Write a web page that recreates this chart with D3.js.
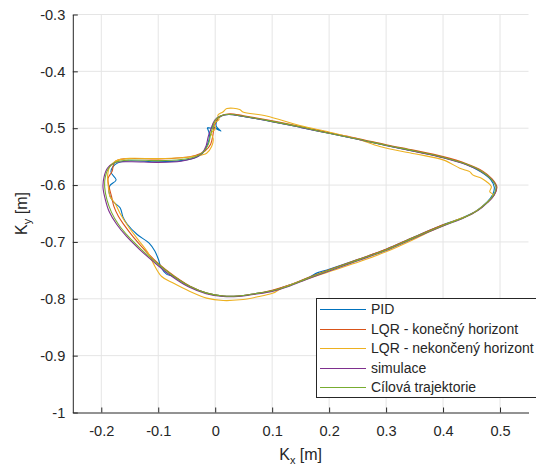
<!DOCTYPE html>
<html>
<head>
<meta charset="utf-8">
<script src="https://cdn.jsdelivr.net/npm/d3@7"></script>
<style>
  body { margin: 0; background: #fff; }
  text { font-family: "Liberation Sans", Arial, Helvetica, sans-serif; fill: #262626; }
</style>
</head>
<body>
<svg id="chart" width="536" height="466"></svg>
<script>
// Axis ticks
const xTicks = [-0.2, -0.1, 0, 0.1, 0.2, 0.3, 0.4, 0.5];
const yTicks = [-1, -0.9, -0.8, -0.7, -0.6, -0.5, -0.4, -0.3];

// Legend entries and line colours
const seriesNames = ["PID", "LQR - konečný horizont", "LQR - nekončený horizont", "simulace", "Cílová trajektorie"];
const seriesColors = ["#0072BD", "#D95319", "#EDB120", "#7E2F8E", "#77AC30"];

// Measured path, PID controller [Kx, Ky]
const pid = [
  [-0.014,-0.499],[0.000,-0.500],[-0.006,-0.496],[0.006,-0.503],[0.010,-0.505],[0.002,-0.497],
  [0.003,-0.487],[0.010,-0.479],[0.024,-0.476],[0.050,-0.4795],[0.100,-0.4885],[0.150,-0.4985],
  [0.200,-0.509],[0.250,-0.5195],[0.300,-0.5305],[0.350,-0.5405],[0.400,-0.5515],[0.440,-0.5635],
  [0.467,-0.577],[0.484,-0.591],[0.490,-0.604],[0.487,-0.617],[0.477,-0.630],[0.460,-0.644],
  [0.435,-0.657],[0.400,-0.670],[0.350,-0.691],[0.300,-0.713],[0.250,-0.731],[0.200,-0.748],
  [0.180,-0.754],[0.163,-0.763],[0.130,-0.776],[0.100,-0.786],[0.070,-0.791],[0.040,-0.795],
  [0.014,-0.795],[-0.015,-0.790],[-0.045,-0.778],[-0.075,-0.760],[-0.085,-0.757],[-0.095,-0.745],
  [-0.0996,-0.731],[-0.106,-0.716],[-0.116,-0.702],[-0.137,-0.687],[-0.155,-0.668],[-0.162,-0.656],
  [-0.167,-0.640],[-0.180,-0.628],[-0.1865,-0.612],[-0.185,-0.601],[-0.174,-0.591],[-0.183,-0.577],
  [-0.176,-0.564],[-0.160,-0.558],[-0.100,-0.559],[-0.060,-0.557],[-0.035,-0.552],[-0.022,-0.544],
  [-0.014,-0.530],[-0.010,-0.512],[-0.014,-0.499]
];

// Measured path, LQR with finite horizon
const lqrFinite = [
  [-0.002,-0.497],[0.004,-0.484],[0.013,-0.477],[0.026,-0.4745],[0.050,-0.478],[0.100,-0.487],
  [0.150,-0.497],[0.200,-0.508],[0.250,-0.518],[0.300,-0.529],[0.350,-0.539],[0.400,-0.550],
  [0.440,-0.562],[0.469,-0.575],[0.486,-0.589],[0.4945,-0.603],[0.490,-0.617],[0.478,-0.630],
  [0.461,-0.644],[0.436,-0.657],[0.400,-0.670],[0.350,-0.691],[0.300,-0.713],[0.250,-0.731],
  [0.200,-0.749],[0.160,-0.764],[0.130,-0.776],[0.100,-0.785],[0.070,-0.791],[0.040,-0.795],
  [0.014,-0.795],[-0.015,-0.790],[-0.044,-0.778],[-0.072,-0.760],[-0.100,-0.738],[-0.122,-0.716],
  [-0.144,-0.691],[-0.160,-0.670],[-0.170,-0.655],[-0.178,-0.637],[-0.182,-0.620],[-0.187,-0.600],
  [-0.188,-0.588],[-0.181,-0.576],[-0.179,-0.566],[-0.176,-0.559],[-0.160,-0.554],[-0.100,-0.554],
  [-0.060,-0.552],[-0.035,-0.548],[-0.018,-0.540],[-0.008,-0.528],[-0.004,-0.512],[-0.002,-0.497]
];

// Measured path, LQR with infinite horizon
const lqrInfinite = [
  [-0.008,-0.508],[0.001,-0.4995],[-0.004,-0.4924],[0.0065,-0.4854],[0.0047,-0.477],[0.0135,-0.4714],
  [0.0205,-0.4655],[0.043,-0.467],[0.0486,-0.4714],[0.090,-0.4784],[0.1486,-0.4955],[0.201,-0.507],
  [0.250,-0.519],[0.289,-0.5323],[0.350,-0.545],[0.400,-0.5557],[0.4293,-0.5703],[0.437,-0.573],
  [0.4468,-0.5763],[0.452,-0.582],[0.4674,-0.5879],[0.476,-0.5938],[0.4849,-0.6026],[0.482,-0.6114],
  [0.4877,-0.6172],[0.476,-0.6318],[0.4526,-0.6494],[0.4175,-0.6641],[0.3767,-0.6817],[0.353,-0.6934],
  [0.301,-0.7169],[0.254,-0.7344],[0.201,-0.752],[0.149,-0.7696],[0.113,-0.7835],[0.1018,-0.790],
  [0.0726,-0.797],[0.0433,-0.8018],[0.014,-0.803],[-0.0151,-0.7988],[-0.0444,-0.7872],[-0.0737,-0.7724],
  [-0.094,-0.7608],[-0.1088,-0.7373],[-0.1175,-0.7197],[-0.1351,-0.6963],[-0.1526,-0.6729],[-0.1672,-0.6494],
  [-0.176,-0.6318],[-0.1847,-0.620],[-0.1877,-0.6026],[-0.1888,-0.582],[-0.1847,-0.5663],[-0.178,-0.560],
  [-0.170,-0.5557],[-0.150,-0.553],[-0.100,-0.5535],[-0.060,-0.552],[-0.035,-0.549],[-0.0151,-0.544],
  [-0.0063,-0.5323],[-0.0035,-0.5188],[-0.008,-0.508]
];

// Simulated path
const simulation = [
  [-0.006,-0.498],[-0.001,-0.486],[0.008,-0.479],[0.023,-0.476],[0.050,-0.4795],[0.100,-0.4885],
  [0.150,-0.4985],[0.200,-0.509],[0.250,-0.5195],[0.300,-0.5305],[0.350,-0.541],[0.400,-0.552],
  [0.440,-0.564],[0.468,-0.577],[0.486,-0.591],[0.4935,-0.604],[0.4895,-0.618],[0.478,-0.631],
  [0.461,-0.645],[0.436,-0.658],[0.400,-0.672],[0.350,-0.693],[0.300,-0.715],[0.250,-0.733],
  [0.200,-0.751],[0.160,-0.766],[0.130,-0.778],[0.100,-0.787],[0.070,-0.792],[0.040,-0.796],
  [0.014,-0.796],[-0.016,-0.791],[-0.047,-0.779],[-0.077,-0.760],[-0.108,-0.735],[-0.133,-0.713],
  [-0.156,-0.690],[-0.173,-0.669],[-0.186,-0.647],[-0.193,-0.625],[-0.197,-0.604],[-0.195,-0.585],
  [-0.189,-0.570],[-0.177,-0.561],[-0.150,-0.559],[-0.100,-0.560],[-0.060,-0.558],[-0.038,-0.553],
  [-0.024,-0.545],[-0.016,-0.531],[-0.012,-0.514],[-0.006,-0.498]
];

// Target trajectory
const target = [
  [-0.004,-0.497],[0.001,-0.485],[0.010,-0.478],[0.024,-0.4755],[0.050,-0.479],[0.100,-0.488],
  [0.150,-0.498],[0.200,-0.509],[0.250,-0.519],[0.300,-0.530],[0.350,-0.540],[0.400,-0.551],
  [0.440,-0.563],[0.468,-0.576],[0.485,-0.590],[0.493,-0.603],[0.489,-0.617],[0.477,-0.631],
  [0.460,-0.645],[0.435,-0.658],[0.400,-0.671],[0.350,-0.692],[0.300,-0.714],[0.250,-0.732],
  [0.200,-0.750],[0.160,-0.765],[0.130,-0.777],[0.100,-0.786],[0.070,-0.791],[0.040,-0.795],
  [0.014,-0.795],[-0.015,-0.790],[-0.045,-0.778],[-0.075,-0.759],[-0.105,-0.735],[-0.130,-0.713],
  [-0.153,-0.690],[-0.170,-0.669],[-0.182,-0.648],[-0.190,-0.626],[-0.194,-0.604],[-0.193,-0.586],
  [-0.187,-0.570],[-0.175,-0.560],[-0.150,-0.556],[-0.100,-0.557],[-0.060,-0.555],[-0.035,-0.550],
  [-0.020,-0.541],[-0.012,-0.528],[-0.008,-0.511],[-0.004,-0.497]
];

const seriesData = [pid, lqrFinite, lqrInfinite, simulation, target];

// Layout
const W = 536, H = 466;
const plot = { left: 72.8, right: 528.5, top: 14.5, bottom: 412.5 };
const axisColor = "#262626";
const gridColor = "#e5e5e5";

const svg = d3.select("#chart");

const x = d3.scaleLinear().domain([-0.25, 0.55]).range([plot.left, plot.right]);
const y = d3.scaleLinear().domain([-1, -0.3]).range([plot.bottom, plot.top]);

const fmt = v => String(+v.toFixed(1));

// Grid
const grid = svg.append("g").attr("stroke", gridColor).attr("stroke-width", 1);
grid.selectAll("line.vx").data(xTicks).join("line")
  .attr("x1", d => x(d)).attr("x2", d => x(d))
  .attr("y1", plot.top).attr("y2", plot.bottom);
grid.selectAll("line.hy").data(yTicks.filter(v => v > -1)).join("line")
  .attr("x1", plot.left).attr("x2", plot.right)
  .attr("y1", d => y(d)).attr("y2", d => y(d));

// Data lines
const line = d3.line()
  .x(d => x(d[0])).y(d => y(d[1]))
  .curve(d3.curveCatmullRom.alpha(0.5));

svg.append("g").selectAll("path").data(seriesData).join("path")
  .attr("d", d => line(d))
  .attr("fill", "none")
  .attr("stroke", (d, i) => seriesColors[i])
  .attr("stroke-width", 1.1)
  .attr("stroke-linejoin", "round");

// Axes with inward ticks
const xAxis = svg.append("g")
  .attr("transform", `translate(0,${plot.bottom})`)
  .call(d3.axisBottom(x).tickValues(xTicks).tickFormat(fmt).tickSize(-5).tickSizeOuter(0).tickPadding(13));
const yAxis = svg.append("g")
  .attr("transform", `translate(${plot.left},0)`)
  .call(d3.axisLeft(y).tickValues(yTicks).tickFormat(fmt).tickSize(-5).tickSizeOuter(0).tickPadding(7.5));

[xAxis, yAxis].forEach(a => {
  a.select(".domain").attr("stroke", axisColor).attr("stroke-width", 1);
  a.selectAll(".tick line").attr("stroke", axisColor).attr("stroke-width", 1);
  a.selectAll(".tick text").attr("fill", axisColor)
    .style("font-size", "14.6px")
    .style("font-family", "'Liberation Sans', Arial, Helvetica, sans-serif");
});

// Axis labels
const xl = svg.append("text")
  .attr("x", (plot.left + plot.right) / 2).attr("y", 460)
  .attr("text-anchor", "middle").style("font-size", "16px");
xl.append("tspan").text("K");
xl.append("tspan").attr("dy", 4).style("font-size", "11px").text("x");
xl.append("tspan").attr("dy", -4).text(" [m]");

const yl = svg.append("text")
  .attr("transform", `translate(27,${(plot.top + plot.bottom) / 2}) rotate(-90)`)
  .attr("text-anchor", "middle").style("font-size", "16px");
yl.append("tspan").text("K");
yl.append("tspan").attr("dy", 4).style("font-size", "11px").text("y");
yl.append("tspan").attr("dy", -4).text(" [m]");

// Legend
const lg = svg.append("g");
lg.append("rect")
  .attr("x", 316.5).attr("y", 298.5).attr("width", 224).attr("height", 99)
  .attr("fill", "#fff").attr("stroke", axisColor).attr("stroke-width", 1);
const rows = lg.selectAll("g.row").data(seriesNames).join("g")
  .attr("transform", (d, i) => `translate(0,${Math.round(309 + i * 19.5) + 0.5})`);
rows.append("line")
  .attr("x1", 320).attr("x2", 366).attr("y1", 0).attr("y2", 0)
  .attr("stroke", (d, i) => seriesColors[seriesNames.indexOf(d)]).attr("stroke-width", 1);
rows.append("text")
  .attr("x", 371).attr("y", 0).attr("dy", "0.35em")
  .style("font-size", "14px").text(d => d);
</script>
</body>
</html>
